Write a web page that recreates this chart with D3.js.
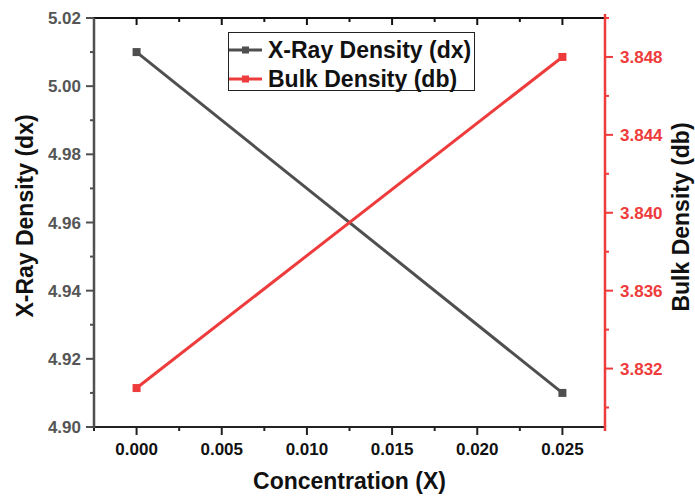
<!DOCTYPE html>
<html>
<head>
<meta charset="utf-8">
<script src="https://cdn.jsdelivr.net/npm/d3@7"></script>
<style>
  body { margin: 0; background: #fff; }
  svg text { font-family: "Liberation Sans", Arial, sans-serif; font-weight: bold; }
</style>
</head>
<body>
<svg id="chart" width="695" height="497"></svg>
<script>
// data
const concentration = [0.000, 0.025];
const xrayDensity = [5.01, 4.91];
const bulkDensity = [3.831, 3.848];
const xTicks = [0.000, 0.005, 0.010, 0.015, 0.020, 0.025];
const leftTicks = [4.90, 4.92, 4.94, 4.96, 4.98, 5.00, 5.02];
const rightTicks = [3.832, 3.836, 3.840, 3.844, 3.848];

const gray = '#4f4f4f';
const red = '#ee3b3b';

const svg = d3.select('#chart');
const plotL = 94, plotR = 605, plotT = 18, plotB = 427;

const x = d3.scaleLinear().domain([-0.0025, 0.0275]).range([plotL, plotR]);
const yL = d3.scaleLinear().domain([4.90, 5.02]).range([plotB, plotT]);
const yR = d3.scaleLinear().domain([3.829, 3.850]).range([plotB, plotT]);

// minor ticks
const xMinor = d3.range(-0.0025, 0.0276, 0.0025).filter(v => Math.abs(Math.round(v / 0.005) * 0.005 - v) > 1e-6);
const lMinor = d3.range(4.91, 5.02, 0.02);
const rMinor = d3.range(3.830, 3.850, 0.004);

// bottom axis
const gx = svg.append('g').attr('transform', `translate(0,${plotB})`);
gx.append('line').attr('x1', plotL - 1).attr('x2', plotR).attr('stroke', '#222').attr('stroke-width', 2);
gx.selectAll('.maj').data(xTicks).join('line')
  .attr('x1', d => x(d)).attr('x2', d => x(d)).attr('y1', 0).attr('y2', 8)
  .attr('stroke', '#222').attr('stroke-width', 2);
gx.selectAll('.min').data(xMinor).join('line')
  .attr('x1', d => x(d)).attr('x2', d => x(d)).attr('y1', 0).attr('y2', 4)
  .attr('stroke', '#222').attr('stroke-width', 2);
gx.selectAll('text').data(xTicks).join('text')
  .attr('x', d => x(d)).attr('y', 28).attr('text-anchor', 'middle')
  .attr('font-size', 17).attr('fill', '#111')
  .text(d3.format('.3f'));

// top axis (inward ticks)
const gt = svg.append('g').attr('transform', `translate(0,${plotT})`);
gt.append('line').attr('x1', plotL - 1).attr('x2', plotR).attr('stroke', '#111').attr('stroke-width', 2);
gt.selectAll('.maj').data(xTicks).join('line')
  .attr('x1', d => x(d)).attr('x2', d => x(d)).attr('y1', 0).attr('y2', 7)
  .attr('stroke', '#111').attr('stroke-width', 2);
gt.selectAll('.min').data(xMinor).join('line')
  .attr('x1', d => x(d)).attr('x2', d => x(d)).attr('y1', 0).attr('y2', 4)
  .attr('stroke', '#111').attr('stroke-width', 2);

// left axis
const gl = svg.append('g').attr('transform', `translate(${plotL},0)`);
gl.append('line').attr('y1', plotT).attr('y2', plotB + 1).attr('stroke', gray).attr('stroke-width', 2.5);
gl.selectAll('.maj').data(leftTicks).join('line')
  .attr('x1', 0).attr('x2', -8).attr('y1', d => yL(d)).attr('y2', d => yL(d))
  .attr('stroke', gray).attr('stroke-width', 2);
gl.selectAll('.min').data(lMinor).join('line')
  .attr('x1', 0).attr('x2', -4).attr('y1', d => yL(d)).attr('y2', d => yL(d))
  .attr('stroke', gray).attr('stroke-width', 2);
gl.selectAll('text').data(leftTicks).join('text')
  .attr('x', -13).attr('y', d => yL(d) + 6).attr('text-anchor', 'end')
  .attr('font-size', 17).attr('fill', '#555')
  .text(d3.format('.2f'));

// right axis
const gr = svg.append('g').attr('transform', `translate(${plotR},0)`);
gr.append('line').attr('y1', plotT - 4).attr('y2', plotB + 4).attr('stroke', red).attr('stroke-width', 2.5);
gr.selectAll('.maj').data(rightTicks).join('line')
  .attr('x1', 0).attr('x2', 8).attr('y1', d => yR(d)).attr('y2', d => yR(d))
  .attr('stroke', red).attr('stroke-width', 2);
gr.selectAll('.min').data(rMinor).join('line')
  .attr('x1', 0).attr('x2', 4).attr('y1', d => yR(d)).attr('y2', d => yR(d))
  .attr('stroke', red).attr('stroke-width', 2);
gr.selectAll('text').data(rightTicks).join('text')
  .attr('x', 15).attr('y', d => yR(d) + 6).attr('text-anchor', 'start')
  .attr('font-size', 17).attr('fill', red)
  .text(d3.format('.3f'));

// axis titles
svg.append('text').attr('x', (plotL + plotR) / 2).attr('y', 489).attr('text-anchor', 'middle')
  .attr('font-size', 23).attr('fill', '#111').text('Concentration (X)');
svg.append('text').attr('transform', 'translate(33,216) rotate(-90)')
  .attr('text-anchor', 'middle').attr('font-size', 23).attr('fill', '#111').text('X-Ray Density (dx)');
svg.append('text').attr('transform', 'translate(689,217) rotate(-90)')
  .attr('text-anchor', 'middle').attr('font-size', 23).attr('fill', '#111').text('Bulk Density (db)');

// series
const series = [
  { name: 'X-Ray Density (dx)', vals: xrayDensity, y: yL, color: gray },
  { name: 'Bulk Density (db)', vals: bulkDensity, y: yR, color: red }
];

series.forEach(s => {
  const pts = concentration.map((c, i) => [c, s.vals[i]]);
  svg.append('path').datum(pts)
    .attr('d', d3.line().x(d => x(d[0])).y(d => s.y(d[1])))
    .attr('fill', 'none').attr('stroke', s.color).attr('stroke-width', 3);
  svg.selectAll(null).data(pts).join('rect')
    .attr('x', d => x(d[0]) - 4).attr('y', d => s.y(d[1]) - 4)
    .attr('width', 8).attr('height', 8).attr('fill', s.color);
});

// legend
const lg = svg.append('g');
lg.append('rect').attr('x', 228.5).attr('y', 32.5).attr('width', 246).attr('height', 58)
  .attr('fill', '#fff').attr('stroke', '#222').attr('stroke-width', 1);
series.forEach((s, i) => {
  const cy = 50 + i * 29;
  lg.append('line').attr('x1', 229).attr('x2', 262).attr('y1', cy).attr('y2', cy)
    .attr('stroke', s.color).attr('stroke-width', 3);
  lg.append('rect').attr('x', 245.5 - 3.5).attr('y', cy - 3.5).attr('width', 7).attr('height', 7).attr('fill', s.color);
  lg.append('text').attr('x', 268).attr('y', cy + 7.5).attr('font-size', 23).attr('fill', '#111').text(s.name);
});
</script>
</body>
</html>
